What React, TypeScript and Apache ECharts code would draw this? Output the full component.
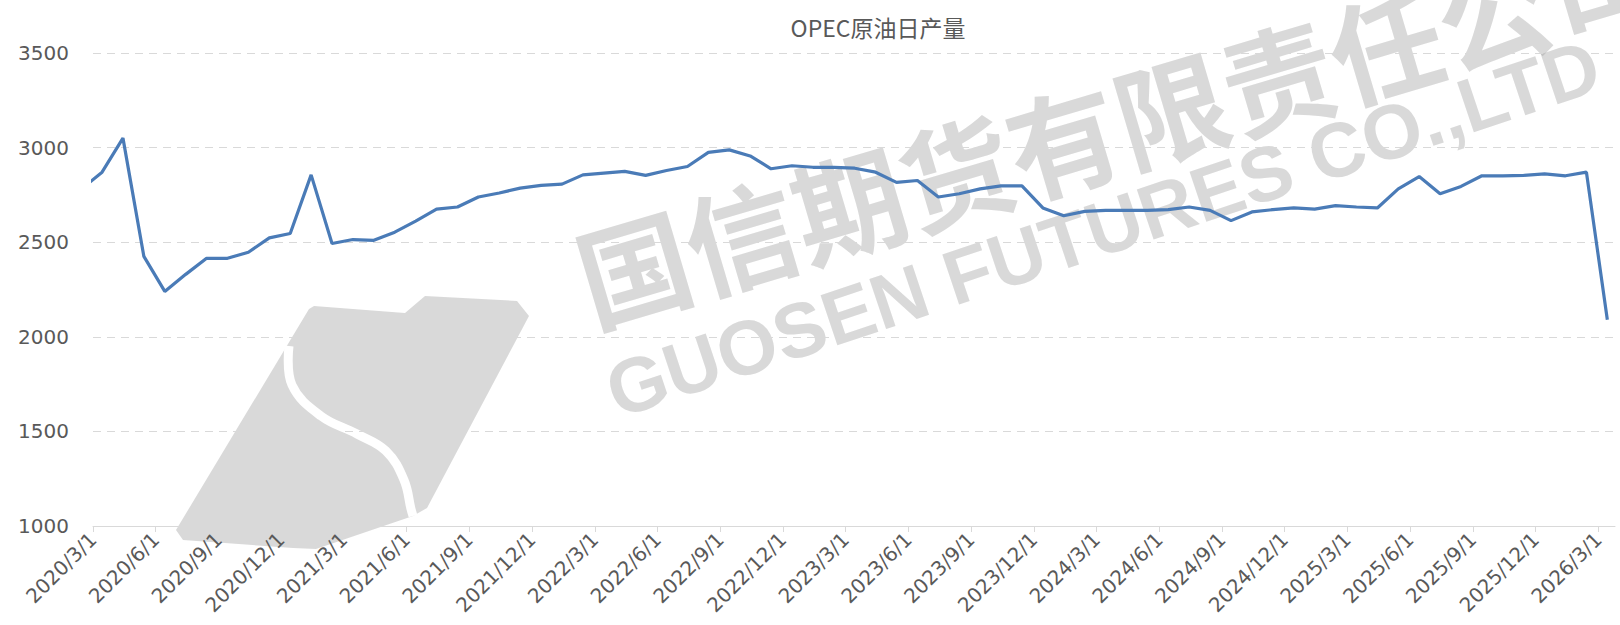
import React, { useEffect, useRef } from 'react';
import * as echarts from 'echarts';

// Observation months (values are dated mid-month, as in the source date axis)
const months = [
  '2020/2', '2020/3', '2020/4', '2020/5', '2020/6', '2020/7', '2020/8', '2020/9', '2020/10', '2020/11', '2020/12',
  '2021/1', '2021/2', '2021/3', '2021/4', '2021/5', '2021/6', '2021/7', '2021/8', '2021/9', '2021/10', '2021/11', '2021/12',
  '2022/1', '2022/2', '2022/3', '2022/4', '2022/5', '2022/6', '2022/7', '2022/8', '2022/9', '2022/10', '2022/11', '2022/12',
  '2023/1', '2023/2', '2023/3', '2023/4', '2023/5', '2023/6', '2023/7', '2023/8', '2023/9', '2023/10', '2023/11', '2023/12',
  '2024/1', '2024/2', '2024/3', '2024/4', '2024/5', '2024/6', '2024/7', '2024/8', '2024/9', '2024/10', '2024/11', '2024/12',
  '2025/1', '2025/2', '2025/3', '2025/4', '2025/5', '2025/6', '2025/7', '2025/8', '2025/9', '2025/10', '2025/11', '2025/12',
  '2026/1', '2026/2', '2026/3',
];

const production = [
  2780, 2870, 3050, 2425, 2240, 2330, 2415, 2415, 2447, 2523, 2546,
  2856, 2493, 2514, 2510, 2553, 2611, 2675, 2686, 2739, 2760, 2786, 2800,
  2807, 2856, 2865, 2874, 2853, 2879, 2900, 2975, 2988, 2956, 2888, 2904,
  2896, 2896, 2891, 2870, 2816, 2826, 2739, 2756, 2782, 2798, 2798, 2681,
  2640, 2663, 2668, 2668, 2668, 2672, 2686, 2668, 2614, 2660, 2672, 2681,
  2675, 2693, 2686, 2681, 2782, 2847, 2756, 2795, 2851, 2851, 2853, 2861,
  2851, 2870, 2090,
];

const tickLabels = [
  '2020/3/1', '2020/6/1', '2020/9/1', '2020/12/1',
  '2021/3/1', '2021/6/1', '2021/9/1', '2021/12/1',
  '2022/3/1', '2022/6/1', '2022/9/1', '2022/12/1',
  '2023/3/1', '2023/6/1', '2023/9/1', '2023/12/1',
  '2024/3/1', '2024/6/1', '2024/9/1', '2024/12/1',
  '2025/3/1', '2025/6/1', '2025/9/1', '2025/12/1',
  '2026/3/1',
];

const yTicks = [1000, 1500, 2000, 2500, 3000, 3500];

const TITLE = 'OPEC原油日产量';
const OBS_DAY = 14;

// months elapsed since 2020/3/1
function monthPos(y: number, m: number, d: number): number {
  return (y - 2020) * 12 + (m - 3) + (d - 1) / 30;
}

export default function App() {
  const ref = useRef<HTMLDivElement>(null);

  useEffect(() => {
    if (!ref.current) return;
    const chart = echarts.init(ref.current, null, { renderer: 'svg' });

    const data = months.map((s, i) => {
      const [y, m] = s.split('/').map(Number);
      return [monthPos(y, m, OBS_DAY), production[i]];
    });
    const tickVals = tickLabels.map((s) => {
      const [y, m, d] = s.split('/').map(Number);
      return monthPos(y, m, d);
    });

    const wmFill = 'rgba(160,160,160,0.4)';

    chart.setOption({
      animation: false,
      backgroundColor: '#ffffff',
      title: {
        text: TITLE,
        left: 873,
        textAlign: 'center',
        top: 10,
        textStyle: {
          fontSize: 23,
          fontWeight: 'normal',
          color: '#595959',
          fontFamily: '"Noto Sans CJK SC", "DejaVu Sans", sans-serif',
        },
      },
      grid: { left: 93, right: 5, top: 53, bottom: 99, containLabel: false },
      xAxis: {
        type: 'value',
        min: 0,
        max: 72.8,
        axisLine: { show: true, lineStyle: { color: '#d9d9d9', width: 1 } },
        axisTick: { show: true, customValues: tickVals, length: 6, lineStyle: { color: '#d9d9d9' } },
        splitLine: { show: false },
        axisLabel: {
          customValues: tickVals,
          rotate: 45,
          margin: 10,
          fontSize: 20,
          color: '#595959',
          fontFamily: '"DejaVu Sans", sans-serif',
          formatter: (v: number) => {
            const i = tickVals.findIndex((t) => Math.abs(t - v) < 1e-6);
            return i >= 0 ? tickLabels[i] : '';
          },
        },
      },
      yAxis: {
        type: 'value',
        min: yTicks[0],
        max: yTicks[yTicks.length - 1],
        interval: 500,
        axisLine: { show: false },
        axisTick: { show: false },
        splitLine: { show: true, lineStyle: { color: '#d9d9d9', type: [8, 6], width: 1 } },
        axisLabel: {
          margin: 24,
          fontSize: 20,
          color: '#595959',
          fontFamily: '"DejaVu Sans", sans-serif',
          formatter: (v: number) => String(v),
        },
      },
      graphic: {
        elements: [
          {
            type: 'polygon',
            z: -10,
            silent: true,
            shape: {
              points: [
                [314, 306], [405, 313], [425, 296], [517, 301], [529, 316],
                [427, 508], [413, 516], [316, 549], [293, 548], [183, 540],
                [176, 530], [309, 309],
              ],
            },
            style: { fill: wmFill },
          },
          {
            type: 'polyline',
            z: -9,
            silent: true,
            shape: {
              points: [
                [289, 346], [292, 385], [321, 416], [357, 434], [386, 451],
                [404, 480], [411, 509], [413, 516],
              ],
              smooth: 0.4,
            },
            style: { stroke: '#ffffff', lineWidth: 9, fill: null },
          },
          {
            type: 'text',
            z: -10,
            silent: true,
            x: 1116,
            y: 121,
            rotation: (16.5 * Math.PI) / 180,
            style: {
              text: '国信期货有限责任公司',
              fill: wmFill,
              fontSize: 112,
              fontWeight: 'bold',
              fontFamily: '"Noto Sans CJK SC", sans-serif',
              align: 'center',
              verticalAlign: 'middle',
            },
          },
          {
            type: 'text',
            z: -10,
            silent: true,
            x: 1103,
            y: 228,
            rotation: (18.5 * Math.PI) / 180,
            style: {
              text: 'GUOSEN FUTURES CO.,LTD',
              fill: wmFill,
              fontSize: 77,
              fontWeight: 'bold',
              fontFamily: '"Liberation Sans", sans-serif',
              align: 'center',
              verticalAlign: 'middle',
            },
          },
        ],
      },
      series: [
        {
          name: TITLE,
          type: 'line',
          data,
          showSymbol: false,
          clip: true,
          z: 5,
          lineStyle: { color: '#4a7bb7', width: 3.2 },
          itemStyle: { color: '#4a7bb7' },
        },
      ],
    });

    return () => {
      chart.dispose();
    };
  }, []);

  return (
    <div
      ref={ref}
      style={{ position: 'absolute', left: 0, top: 0, width: 1620, height: 625, background: '#fff' }}
    />
  );
}
